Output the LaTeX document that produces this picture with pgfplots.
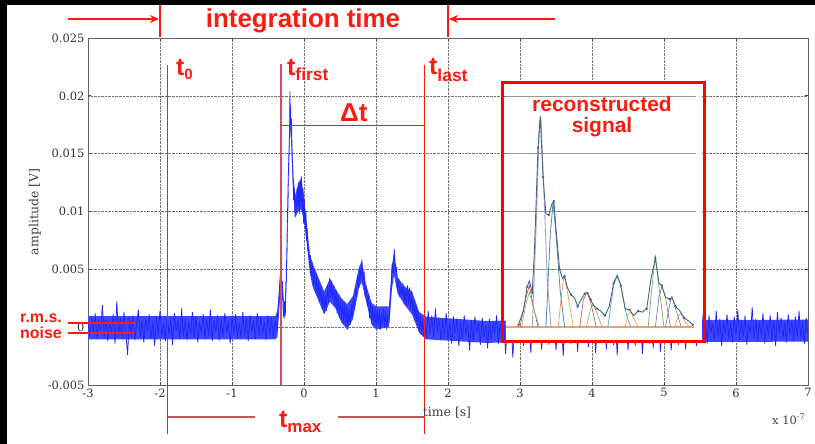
\documentclass[border=0pt]{standalone}
\usepackage{fontspec}
\usepackage{pgfplots}
\pgfplotsset{compat=1.18}
\usetikzlibrary{arrows.meta}
\newfontfamily\arial{Liberation Sans}
\newfontfamily\dserif{DejaVu Serif}
\definecolor{annred}{RGB}{255,25,15}
\definecolor{mutedred}{RGB}{196,88,88}
\definecolor{sigblue}{RGB}{30,40,255}
\definecolor{insgray}{RGB}{150,150,150}
\definecolor{pulselav}{RGB}{165,165,200}
\definecolor{pulseteal}{RGB}{80,140,165}
\definecolor{pulseorange}{RGB}{235,140,70}
\definecolor{pulsered}{RGB}{200,70,70}
\definecolor{pulsegreen}{RGB}{120,180,90}
\definecolor{pulselblue}{RGB}{110,170,210}
\definecolor{pulsepurple}{RGB}{140,100,170}
\definecolor{envblue}{RGB}{70,100,145}
\definecolor{baseorange}{RGB}{240,160,110}
\begin{document}
\begin{tikzpicture}
\useasboundingbox (-88bp,-59bp) rectangle (727bp,385bp);
\begin{axis}[
  scale only axis, width=720bp, height=347bp,
  xmin=-3, xmax=7, ymin=-5, ymax=25,
  xtick={-3,-2,...,7}, ytick={-5,0,5,10,15,20,25},
  yticklabels={-0.005,0,0.005,0.01,0.015,0.02,0.025},
  grid=major, major grid style={densely dotted, black!55, line width=0.6pt},
  axis line style={black!60, line width=0.8pt},
  tick style={black!75, line width=0.8pt},
  major tick length=3bp, tick align=inside,
  ticklabel style={font=\dserif\fontsize{11.5}{13}\selectfont, text=black!80},
  /pgf/number format/assume math mode=true,
  scaled x ticks=false, scaled y ticks=false,
]
% dense core of the measured signal (upper envelope, then lower envelope back)
\addplot[fill=sigblue!85, draw=none, forget plot] coordinates {
(-3,0.95)(-0.4,0.95)(-0.37,1.4)(-0.33,4.2)(-0.3,3.7)(-0.27,1.7)(-0.24,5.7)(-0.21,14.2)(-0.195,19.7)(-0.18,17.7)
(-0.15,13.3)(-0.12,11.4)(-0.08,12.4)(-0.04,12.8)(0,11.4)(0.04,8.9)(0.08,6.4)(0.12,5.5)(0.2,4.3)(0.28,3.1)(0.36,4.2)
(0.44,3.3)(0.52,2.5)(0.6,2.0)(0.68,2.7)(0.76,5.1)(0.8,5.7)(0.86,3.7)(0.94,2.1)(1.0,1.8)(1.18,1.8)(1.22,5.3)
(1.25,6.5)(1.3,4.3)(1.4,3.5)(1.5,3.1)(1.6,1.3)(1.7,0.9)(2.5,0.55)(7,0.65)
(7,-1.25)(2.5,-1.35)(1.7,-1.05)(1.6,-0.5)(1.5,1.1)(1.4,1.9)(1.3,2.9)(1.25,4.5)(1.22,3.2)(1.18,0.0)(1.0,-0.2)
(0.94,0.2)(0.86,2.3)(0.8,3.9)(0.76,3.3)(0.68,0.7)(0.6,-0.2)(0.52,0.4)(0.44,1.6)(0.36,2.2)(0.28,1.1)(0.2,2.3)
(0.12,3.5)(0.08,4.7)(0.04,7.2)(0,9.2)(-0.04,10.2)(-0.08,10.0)(-0.12,9.5)(-0.15,11.7)(-0.18,16.2)(-0.195,18.2)
(-0.21,12.7)(-0.24,4.2)(-0.27,0.7)(-0.3,2.5)(-0.33,2.7)(-0.37,-0.9)(-0.4,-1.05)(-3,-1.05)};
% measured signal (y in mV, x in units of 1e-7 s)
\addplot[sigblue, line width=0.8pt, line join=round] coordinates {
(-3.000,0.4)(-2.975,-0.8)(-2.950,0.9)(-2.925,-0.5)(-2.900,1.2)(-2.875,-1.0)(-2.850,0.6)(-2.825,-0.3)
(-2.800,1.9)(-2.775,-0.9)(-2.750,0.7)(-2.725,-1.2)(-2.700,0.5)(-2.675,-0.6)(-2.650,1.1)(-2.625,-1.4)
(-2.600,2.2)(-2.575,-0.7)(-2.550,0.8)(-2.525,-1.0)(-2.500,1.3)(-2.475,-0.5)(-2.450,-2.4)(-2.425,0.9)
(-2.400,-0.8)(-2.375,1.0)(-2.350,-1.1)(-2.325,0.3)(-2.300,1.5)(-2.275,-0.9)(-2.250,0.6)(-2.225,-1.3)
(-2.200,0.8)(-2.175,-0.4)(-2.150,1.1)(-2.125,-1.0)(-2.100,0.5)(-2.075,-1.6)(-2.050,0.9)(-2.025,-0.6)
(-2.000,1.4)(-1.975,-0.8)(-1.950,0.4)(-1.925,-1.2)(-1.900,1.0)(-1.875,-0.7)(-1.850,0.8)(-1.825,-1.5)
(-1.800,1.2)(-1.775,-0.3)(-1.750,0.6)(-1.725,-1.0)(-1.700,1.6)(-1.675,-0.8)(-1.650,0.7)(-1.625,-1.1)
(-1.600,0.5)(-1.575,-0.6)(-1.550,1.3)(-1.525,-0.9)(-1.500,0.9)(-1.475,-1.3)(-1.450,0.4)(-1.425,-0.5)
(-1.400,1.1)(-1.375,-1.0)(-1.350,0.8)(-1.325,-0.7)(-1.300,1.5)(-1.275,-1.2)(-1.250,0.6)(-1.225,-0.4)
(-1.200,1.0)(-1.175,-1.1)(-1.150,0.7)(-1.125,-0.8)(-1.100,1.2)(-1.075,-0.5)(-1.050,0.5)(-1.025,-1.4)
(-1.000,0.9)(-0.975,-0.6)(-0.950,1.1)(-0.925,-1.0)(-0.900,0.4)(-0.875,-0.9)(-0.850,1.3)(-0.825,-0.7)
(-0.800,0.8)(-0.775,-1.2)(-0.750,1.0)(-0.725,-0.4)(-0.700,0.6)(-0.675,-1.0)(-0.650,1.2)(-0.625,-0.8)
(-0.600,0.9)(-0.575,-0.6)(-0.550,0.5)(-0.525,-1.1)(-0.500,1.0)(-0.475,-0.7)(-0.450,0.8)(-0.425,-0.9)
(-0.400,0.6)(-0.375,-0.4)(-0.360,1.5)(-0.345,3.0)(-0.330,4.5)(-0.315,3.2)(-0.300,4.0)(-0.290,1.5)
(-0.280,0.8)(-0.270,2.2)(-0.260,1.0)(-0.250,3.5)(-0.240,6.0)(-0.230,9.5)(-0.220,12.5)(-0.210,15.0)
(-0.200,17.0)(-0.195,20.4)(-0.190,17.5)(-0.185,19.0)(-0.180,16.5)(-0.175,18.0)(-0.165,15.0)(-0.155,13.5)
(-0.145,11.0)(-0.135,12.0)(-0.125,9.5)(-0.115,11.2)(-0.105,10.0)(-0.095,12.0)(-0.085,10.5)(-0.075,12.5)
(-0.065,9.8)(-0.055,12.8)(-0.045,10.5)(-0.035,13.0)(-0.025,10.0)(-0.015,12.0)(-0.005,9.0)(0.005,11.0)
(0.015,8.5)(0.025,10.0)(0.035,7.5)(0.045,8.5)(0.055,6.5)(0.065,7.0)(0.075,5.5)(0.085,6.2)
(0.100,4.4)(0.115,5.6)(0.130,3.6)(0.145,5.0)(0.160,3.0)(0.175,4.6)(0.190,2.6)(0.205,4.0)
(0.220,2.2)(0.235,3.6)(0.250,1.6)(0.265,3.0)(0.280,1.2)(0.295,2.8)(0.310,1.4)(0.325,3.6)
(0.340,2.2)(0.355,4.2)(0.370,2.6)(0.385,4.0)(0.400,2.4)(0.415,3.6)(0.430,1.8)(0.445,3.2)
(0.460,1.2)(0.475,2.8)(0.490,0.8)(0.505,2.4)(0.520,0.6)(0.535,2.2)(0.550,0.4)(0.565,2.0)
(0.580,0.2)(0.595,1.8)(0.610,-0.2)(0.625,1.6)(0.640,0.2)(0.655,2.0)(0.670,0.8)(0.685,2.6)
(0.700,1.6)(0.715,3.4)(0.730,2.6)(0.745,4.4)(0.760,3.4)(0.775,5.2)(0.790,4.2)(0.805,5.8)
(0.820,3.8)(0.835,4.8)(0.850,2.6)(0.865,3.6)(0.880,1.8)(0.895,2.8)(0.910,0.8)(0.925,2.2)
(0.940,0.4)(0.955,1.8)(0.970,0.2)(0.985,1.6)(1.000,0.0)(1.015,1.6)(1.030,0.2)(1.045,1.4)
(1.060,-0.2)(1.075,1.2)(1.090,0.2)(1.105,1.6)(1.120,0.0)(1.135,1.4)(1.150,-0.2)(1.165,1.2)
(1.180,0.4)(1.195,1.8)(1.210,3.5)(1.225,5.5)(1.240,4.6)(1.255,6.7)(1.270,4.8)(1.285,5.2)
(1.300,3.2)(1.315,4.2)(1.330,2.6)(1.345,3.6)(1.360,2.6)(1.375,3.8)(1.390,2.0)(1.405,3.4)
(1.420,1.8)(1.435,3.6)(1.450,2.0)(1.465,3.4)(1.480,1.6)(1.495,3.0)(1.510,1.2)(1.525,2.4)
(1.540,0.6)(1.555,2.0)(1.570,0.2)(1.585,1.4)(1.600,-0.4)(1.615,1.0)(1.630,-0.6)(1.645,0.8)
(1.660,-0.8)(1.675,0.6)(1.700,-1.0)
(1.725,1.4)(1.750,-0.6)(1.775,1.0)(1.800,-0.9)(1.825,1.6)(1.850,-0.4)(1.875,0.8)(1.900,-1.1)
(1.925,0.6)(1.950,-0.8)(1.975,1.2)(2.000,-1.0)(2.025,0.4)(2.050,-1.4)(2.075,0.9)(2.100,-0.6)
(2.125,0.7)(2.150,-1.6)(2.175,0.5)(2.200,-1.0)(2.225,1.0)(2.250,-0.7)(2.275,0.3)(2.300,-2.0)
(2.325,0.6)(2.350,-1.2)(2.375,0.9)(2.400,-0.5)(2.425,0.4)(2.450,-1.5)(2.475,0.8)(2.500,-0.9)
(2.525,0.2)(2.550,-1.8)(2.575,0.7)(2.600,-1.1)(2.625,0.5)(2.650,-0.6)(2.675,1.0)(2.700,-1.4)
(2.725,0.3)(2.750,-0.9)(2.775,0.6)(2.800,-2.3)(2.825,0.4)(2.850,-1.0)(2.875,0.8)(2.900,-2.6)
(2.925,0.2)(2.950,-1.2)(2.975,0.7)(3.000,-0.8)(3.025,0.5)(3.050,-1.6)(3.075,0.9)(3.100,-1.0)
(3.125,0.1)(3.150,-2.2)(3.175,0.6)(3.200,-0.7)(3.225,0.4)(3.250,-1.3)(3.275,0.8)(3.300,-1.9)
(3.325,0.3)(3.350,-0.9)(3.375,0.6)(3.400,-1.5)(3.425,0.2)(3.450,-1.1)(3.475,0.7)(3.500,-2.0)
(3.525,0.4)(3.550,-0.8)(3.575,0.5)(3.600,-2.5)(3.625,0.3)(3.650,-1.0)(3.675,0.8)(3.700,-1.4)
(3.725,0.1)(3.750,-0.9)(3.775,0.6)(3.800,-2.1)(3.825,0.4)(3.850,-1.2)(3.875,0.7)(3.900,-0.6)
(3.925,0.2)(3.950,-1.7)(3.975,0.5)(4.000,-1.0)(4.025,0.8)(4.050,-2.2)(4.075,0.3)(4.100,-0.8)
(4.125,0.6)(4.150,-1.3)(4.175,0.4)(4.200,-1.9)(4.225,0.7)(4.250,-0.9)(4.275,0.2)(4.300,-1.5)
(4.325,0.5)(4.350,-2.4)(4.375,0.6)(4.400,-1.0)(4.425,0.3)(4.450,-1.2)(4.475,0.8)(4.500,-2.0)
(4.525,0.4)(4.550,-0.7)(4.575,0.5)(4.600,-1.6)(4.625,0.2)(4.650,-1.1)(4.675,0.7)(4.700,-2.3)
(4.725,0.4)(4.750,-0.9)(4.775,0.6)(4.800,-1.4)(4.825,0.3)(4.850,-1.8)(4.875,0.8)(4.900,-0.6)
(4.925,0.5)(4.950,-2.1)(4.975,0.2)(5.000,-1.0)(5.025,0.7)(5.050,-1.3)(5.075,0.4)(5.100,-2.0)
(5.125,0.6)(5.150,-0.8)(5.175,0.3)(5.200,-1.5)(5.225,0.8)(5.250,-1.1)(5.275,0.5)(5.300,-1.9)
(5.325,0.2)(5.350,-0.9)(5.375,0.7)(5.400,-1.2)(5.425,0.4)(5.450,-1.6)(5.475,0.9)(5.500,-0.7)
(5.525,1.2)(5.550,-1.0)(5.575,0.6)(5.600,-1.4)(5.625,1.0)(5.650,-0.5)(5.675,0.3)(5.700,-1.2)
(5.725,1.4)(5.750,-0.8)(5.775,0.7)(5.800,-1.6)(5.825,0.5)(5.850,-0.6)(5.875,1.1)(5.900,-1.0)
(5.925,0.4)(5.950,-1.3)(5.975,0.9)(6.000,-0.7)(6.025,1.5)(6.050,-1.1)(6.075,0.6)(6.100,-0.9)
(6.125,1.0)(6.150,-1.5)(6.175,0.3)(6.200,-0.6)(6.225,1.7)(6.250,-1.0)(6.275,0.7)(6.300,-1.2)
(6.325,0.5)(6.350,-0.8)(6.375,1.2)(6.400,-1.4)(6.425,0.4)(6.450,-0.7)(6.475,1.0)(6.500,-1.1)
(6.525,0.6)(6.550,-1.6)(6.575,1.3)(6.600,-0.5)(6.625,0.8)(6.650,-1.0)(6.675,0.4)(6.700,-1.3)
(6.725,1.1)(6.750,-0.7)(6.775,0.6)(6.800,-1.2)(6.825,0.9)(6.850,-0.8)(6.875,1.4)(6.900,-1.0)
(6.925,0.5)(6.950,-1.4)(6.975,0.8)(7.000,-0.6)
};
% inset background
\fill[white] (axis cs:2.80,-1.1) rectangle (axis cs:5.53,20.9);
% inset grid lines
\addplot[insgray, line width=0.6pt, forget plot] coordinates {(2.80,5)(5.45,5)};
\addplot[insgray, line width=0.6pt, forget plot] coordinates {(2.80,10)(5.45,10)};
\addplot[insgray, line width=0.6pt, forget plot] coordinates {(2.80,15)(5.45,15)};
\addplot[insgray, line width=0.6pt, forget plot] coordinates {(2.80,20)(5.45,20)};
% reconstructed pulses
\addplot[baseorange, line width=1.6pt] coordinates {(2.80,0)(5.42,0)};
\addplot[pulsered, line width=0.6pt] coordinates {(3.00,0)(3.08,2.5)(3.13,3.6)(3.18,2.0)(3.25,0)};
\addplot[pulsegreen, line width=0.6pt] coordinates {(3.02,0)(3.09,2.2)(3.13,3.0)(3.19,1.6)(3.27,0)};
\addplot[pulselav, line width=0.9pt] coordinates {(3.17,0)(3.22,8)(3.27,17.5)(3.29,18.3)(3.33,12)(3.38,4)(3.43,0)};
\addplot[pulseteal, line width=0.8pt] coordinates {(3.36,0)(3.42,8)(3.46,10.8)(3.50,8)(3.56,3)(3.62,0)};
\addplot[pulseorange, line width=0.6pt] coordinates {(3.53,0)(3.58,3)(3.61,4.4)(3.66,3)(3.74,0)};
\addplot[pulsered, line width=0.6pt] coordinates {(3.83,0)(3.88,2.4)(3.93,3.0)(3.98,2.2)(4.06,0)};
\addplot[pulsegreen, line width=0.6pt] coordinates {(3.92,0)(3.98,1.6)(4.02,2.0)(4.07,1.2)(4.14,0)};
\addplot[pulselblue, line width=0.8pt] coordinates {(4.22,0)(4.30,3.6)(4.35,4.4)(4.40,3.6)(4.48,1)(4.54,0)};
\addplot[pulseorange, line width=0.6pt] coordinates {(4.46,0)(4.50,1.1)(4.54,1.3)(4.60,0.5)(4.64,0)};
\addplot[pulsegreen, line width=0.7pt] coordinates {(4.78,0)(4.84,4)(4.88,6.1)(4.93,3.5)(5.00,0)};
\addplot[pulsepurple, line width=0.6pt] coordinates {(4.88,0)(4.93,2.6)(4.97,3.5)(5.02,2.6)(5.09,0)};
\addplot[pulseteal, line width=0.6pt] coordinates {(5.02,0)(5.08,2.0)(5.11,2.6)(5.16,1.6)(5.24,0)};
\addplot[pulseorange, line width=0.6pt] coordinates {(5.15,0)(5.20,1.0)(5.23,1.2)(5.30,0.4)(5.35,0)};
\addplot[envblue, line width=0.9pt, mark=*, mark size=0.7pt, mark repeat=2] coordinates {
(2.98,0.2)(3.05,1.5)(3.10,3.5)(3.13,4.0)(3.17,3.0)(3.20,6.5)(3.25,15.5)(3.28,18.2)(3.32,13)(3.36,9.8)
(3.40,9.7)(3.44,10.6)(3.47,10.9)(3.50,8.5)(3.55,5)(3.59,4.2)(3.62,4.4)(3.66,3.4)(3.71,2.8)(3.76,2.5)
(3.80,1.8)(3.85,2.4)(3.90,2.9)(3.94,3.0)(3.98,2.4)(4.02,1.9)(4.07,1.6)(4.12,1.4)(4.18,1.0)(4.24,1.8)
(4.30,3.8)(4.35,4.5)(4.40,3.6)(4.46,1.6)(4.52,1.5)(4.58,1.0)(4.64,1.4)(4.70,1.3)(4.76,1.6)(4.82,4.2)
(4.88,6.0)(4.93,3.8)(4.97,3.6)(5.02,2.6)(5.08,2.4)(5.11,2.6)(5.16,1.8)(5.22,1.4)(5.28,0.8)(5.35,0.5)(5.40,0.2)};
\end{axis}
% annotations in pixel coordinates of the reference (origin top-left)
\begin{scope}[x=1bp, y=-1bp, shift={(-88bp,385bp)}]
\fill[black] (0,0) rectangle (7,444);
\fill[black] (0,0) rectangle (815,5);
% integration time
\draw[annred, line width=1.2bp] (160,5) -- (160,37);
\draw[annred, line width=1.2bp] (448,5) -- (448,37);
\draw[annred, line width=1.6bp, -{Stealth[length=9bp,width=8bp]}] (68,19) -- (159,19);
\draw[annred, line width=1.6bp, -{Stealth[length=9bp,width=8bp]}] (555,19) -- (449,19);
\node[anchor=base, text=annred, font=\arial\bfseries\fontsize{26}{28}\selectfont, inner sep=0pt] at (303,28) {integration time};
% vertical markers
\draw[annred, line width=1bp] (168,65) -- (168,434);
\draw[mutedred, line width=1.4bp] (281,64) -- (281,385);
\draw[annred, line width=1bp] (425,65) -- (425,434);
\draw[annred, line width=1bp] (281,126) -- (425,126);
\draw[mutedred, line width=1.4bp] (168,417) -- (255,417);
\draw[mutedred, line width=1.4bp] (338,417) -- (425,417);
\node[anchor=base west, text=annred, font=\arial\bfseries\fontsize{25}{27}\selectfont, inner sep=0pt] at (176,76) {t\raisebox{-4bp}{\fontsize{15}{15}\selectfont 0}};
\node[anchor=base west, text=annred, font=\arial\bfseries\fontsize{25}{27}\selectfont, inner sep=0pt] at (287,76) {t\raisebox{-5bp}{\fontsize{17.5}{18}\selectfont first}};
\node[anchor=base west, text=annred, font=\arial\bfseries\fontsize{25}{27}\selectfont, inner sep=0pt] at (429,75) {t\raisebox{-7bp}{\fontsize{17.5}{18}\selectfont last}};
\node[anchor=base west, text=annred, font=\arial\bfseries\fontsize{25}{27}\selectfont, inner sep=0pt] at (279,428) {t\raisebox{-5bp}{\fontsize{17}{18}\selectfont max}};
\node[anchor=base west, text=annred, font=\arial\bfseries\fontsize{26}{28}\selectfont, inner sep=0pt] at (340,122) {Δt};
% r.m.s. noise
\draw[annred, line width=2.6bp] (68,323) -- (135,323);
\draw[annred, line width=2.6bp] (68,333) -- (135,333);
\node[anchor=base west, text=annred, font=\arial\bfseries\fontsize{16}{18}\selectfont, inner sep=0pt] at (20,323) {r.m.s.};
\node[anchor=base west, text=annred, font=\arial\bfseries\fontsize{16}{18}\selectfont, inner sep=0pt] at (20,339) {noise};
% reconstructed signal box
\draw[red, line width=3bp] (503,83) rectangle (705,342);
\node[anchor=base, text=annred, font=\arial\bfseries\fontsize{21}{23}\selectfont, inner sep=0pt] at (602,112) {reconstructed};
\node[anchor=base, text=annred, font=\arial\bfseries\fontsize{21}{23}\selectfont, inner sep=0pt] at (602,133) {signal};
% axis descriptions
\node[rotate=90, text=black!75, font=\dserif\fontsize{12.5}{14}\selectfont] at (35,212) {amplitude [V]};
\node[text=black!75, font=\dserif\fontsize{12.5}{14}\selectfont] at (447,413) {time [s]};
\node[text=black!75, font=\dserif\fontsize{11.5}{13}\selectfont, anchor=base west, inner sep=0pt] at (772,425) {x 10\raisebox{5bp}{\fontsize{8}{9}\selectfont -7}};
\end{scope}
\end{tikzpicture}
\end{document}
